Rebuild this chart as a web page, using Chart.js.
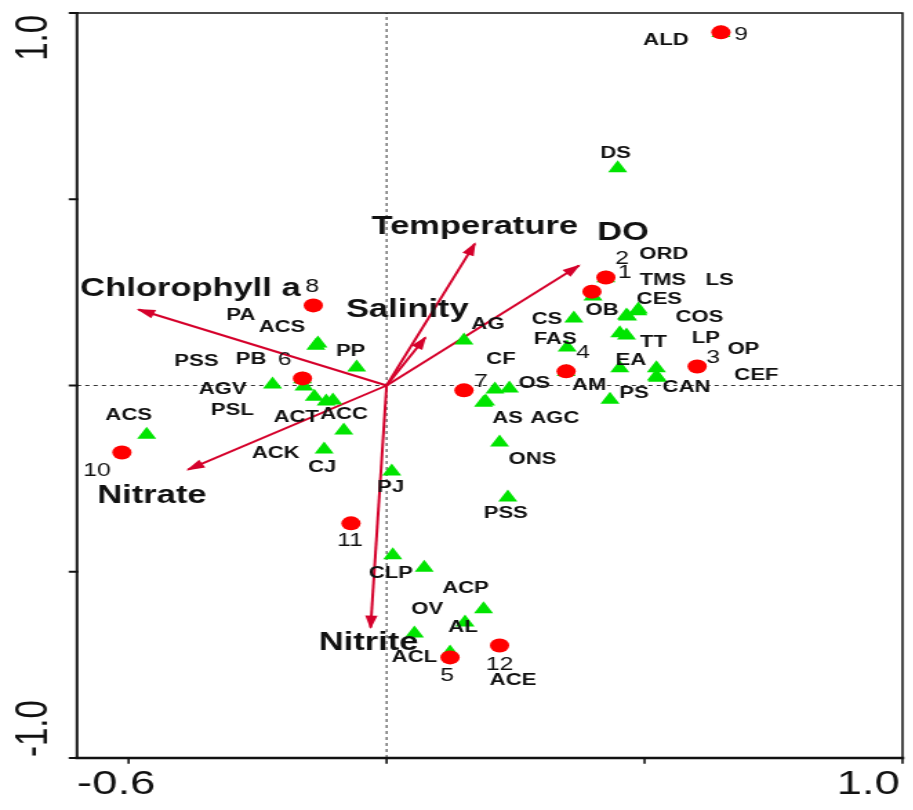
<!DOCTYPE html>
<html>
<head>
<meta charset="utf-8">
<title>CCA biplot</title>
<script src="https://cdn.jsdelivr.net/npm/chart.js@4.4.1/dist/chart.umd.min.js"></script>
<style>
  html, body { margin: 0; padding: 0; background: #fff; }
  #wrap { width: 913px; height: 810px; overflow: hidden; }
  /* the plot is drawn narrow and widened by CSS, which gives the wide lettering and oval dots */
  #cca { display: block; width: 662px; height: 810px; transform: scaleX(1.38); transform-origin: 0 0; }
</style>
</head>
<body>
<div id="wrap"><canvas id="cca" width="662" height="810"></canvas></div>
<script>
(function () {
  'use strict';

  var SX = 1.38; // must equal the scaleX in the stylesheet

  /* ---------------- Axes ---------------- */
  var xTicks = [-0.5, 0, 0.5, 1.0];
  var yTicks = [-1.0, -0.5, 0, 0.5, 1.0];
  var xTickLabels = ['-0.6', '1.0'];
  var yTickLabels = ['-1.0', '1.0'];

  /* ---------------- Sites (samples) ---------------- */
  var siteNames = ['1', '2', '3', '4', '5', '6', '7', '8', '9', '10', '11', '12'];
  var siteX = [0.425, 0.398, 0.602, 0.348, 0.123, -0.163, 0.150, -0.142, 0.648, -0.513, -0.069, 0.219];
  var siteY = [0.290, 0.252, 0.051, 0.038, -0.730, 0.019, -0.013, 0.215, 0.948, -0.180, -0.370, -0.698];

  /* ---------------- Species ---------------- */
  var speciesNames = ['PA', 'ACS', 'PP', 'PSS', 'PB', 'AGV', 'PSL', 'ACT', 'ACC', 'ACK', 'CJ', 'ACS',
    'AG', 'CS', 'FAS', 'CF', 'OS', 'AS', 'AGC', 'ONS', 'PSS', 'AM', 'PS', 'EA', 'OB', 'CES', 'COS',
    'TMS', 'ORD', 'LS', 'TT', 'LP', 'OP', 'CEF', 'CAN', 'DS', 'ALD', 'PJ', 'CLP', 'OV', 'ACP', 'AL',
    'ACL', 'ACE'];
  var speciesX = [-0.137, -0.133, -0.058, -0.163, -0.160, -0.221, -0.140, -0.117, -0.104, -0.083, -0.121, -0.465,
    0.150, 0.363, 0.350, 0.210, 0.238, 0.188, 0.192, 0.219, 0.235, 0.348, 0.433, 0.452, 0.400, 0.488, 0.465,
    0.487, 0.425, 0.467, 0.465, 0.452, 0.523, 0.523, 0.525, 0.448, 0.648, 0.010, 0.012, 0.073, 0.188, 0.152,
    0.054, 0.123];
  var speciesY = [0.107, 0.113, 0.048, 0.017, -0.003, 0.003, -0.030, -0.043, -0.040, -0.121, -0.172, -0.132,
    0.121, 0.180, 0.102, -0.011, -0.008, -0.046, -0.043, -0.153, -0.301, 0.036, -0.038, 0.046, 0.239, 0.204, 0.188,
    0.199, 0.288, 0.185, 0.134, 0.140, 0.046, 0.024, 0.021, 0.583, 0.946, -0.231, -0.456, -0.489, -0.601, -0.636,
    -0.666, -0.717];

  /* ---------------- Environmental vectors ---------------- */
  var envNames = ['Chlorophyll a', 'Nitrate', 'Nitrite', 'Temperature', 'DO', 'Salinity'];
  var envX = [-0.481, -0.385, -0.031, 0.171, 0.373, 0.075];
  var envY = [0.204, -0.226, -0.650, 0.381, 0.322, 0.129];

  /* label placement, screen pixels from the mark (or arrow tip) */
  var siteLabelOffsets = [[19, -4], [30, -33], [16, -8], [17, -18], [-3, 19], [-18, -18], [17, -8], [-1, -18],
    [20, 3], [-25, 18], [-1, 18], [0, 20]];
  var speciesLabelOffsets = [[-75, -30], [-36, -16], [-6, -16], [-106, -18], [-53, -27], [-50, 5], [-82, 14],
    [-30, 16], [11, 14], [-68, 23], [-2, 18], [-18, -19], [24, -16], [-27, 1], [-12, -8], [6, -30], [25, -5],
    [24, 16], [69, 17], [33, 17], [-2, 16], [23, 14], [24, -6], [11, -8], [9, 14], [21, -10], [73, 2], [25, -31],
    [58, -24], [92, -36], [27, 7], [86, 5], [87, -19], [100, -1], [29, 10], [-2, -15], [-55, 7], [-1, 16],
    [-2, 18], [3, 42], [-18, -21], [-2, 5], [0, 24], [63, 28]];
  var envLabelOffsets = [[52, -20], [-36, 26], [-2, 15], [0, -16], [44, -32], [-18, -27]];

  var RED = '#ff0000';
  var GREEN = '#00e400';
  var ARROW = '#d5002b';
  var INK = '#111111';
  var FONT = "'Liberation Sans', Arial, sans-serif";

  function points(xs, ys) {
    return xs.map(function (v, i) { return { x: v, y: ys[i] }; });
  }

  var datasets = [
    {
      label: 'Sites',
      data: points(siteX, siteY),
      pointStyle: 'circle',
      pointRadius: 7,
      backgroundColor: RED,
      borderColor: RED,
      borderWidth: 0,
      order: 0
    },
    {
      label: 'Species',
      data: points(speciesX, speciesY),
      pointStyle: 'triangle',
      pointRadius: 8,
      backgroundColor: GREEN,
      borderColor: GREEN,
      borderWidth: 0,
      order: 1
    }
  ];

  envNames.forEach(function (name, i) {
    datasets.push({
      label: name,
      type: 'line',
      data: [{ x: 0, y: 0 }, { x: envX[i], y: envY[i] }],
      borderColor: ARROW,
      borderWidth: 2,
      pointRadius: 0,
      fill: false,
      order: 2
    });
  });

  // dashed zero lines
  datasets.push({
    type: 'line',
    data: [{ x: -0.6, y: 0 }, { x: 1.0, y: 0 }],
    borderColor: '#333',
    borderWidth: 1,
    borderDash: [3, 3],
    pointRadius: 0,
    order: 3
  });
  datasets.push({
    type: 'line',
    data: [{ x: 0, y: -1.0 }, { x: 0, y: 1.0 }],
    borderColor: '#333',
    borderWidth: 1,
    borderDash: [3, 3],
    pointRadius: 0,
    order: 3
  });

  /* ---- arrowheads, labels, frame and ticks ---- */
  var biplotDecor = {
    id: 'biplotDecor',
    afterDatasetsDraw: function (chart) {
      var ctx = chart.ctx;
      var xs = chart.scales.x, ys = chart.scales.y;
      var ox = xs.getPixelForValue(0), oy = ys.getPixelForValue(0);

      ctx.save();
      ctx.fillStyle = ARROW;
      envX.forEach(function (v, i) {
        var tx = xs.getPixelForValue(v), ty = ys.getPixelForValue(envY[i]);
        var a = Math.atan2(ty - oy, tx - ox);
        var len = 12, half = 4.5;
        ctx.beginPath();
        ctx.moveTo(tx + 1.5 * Math.cos(a), ty + 1.5 * Math.sin(a));
        ctx.lineTo(tx - len * Math.cos(a) + half * Math.sin(a), ty - len * Math.sin(a) - half * Math.cos(a));
        ctx.lineTo(tx - len * Math.cos(a) - half * Math.sin(a), ty - len * Math.sin(a) + half * Math.cos(a));
        ctx.closePath();
        ctx.fill();
      });

      ctx.fillStyle = INK;
      ctx.textAlign = 'center';
      ctx.textBaseline = 'middle';

      function put(text, vx, vy, off) {
        ctx.fillText(text, xs.getPixelForValue(vx) + off[0] / SX, ys.getPixelForValue(vy) + off[1]);
      }

      ctx.font = 'bold 16px ' + FONT;
      speciesNames.forEach(function (n, i) { put(n, speciesX[i], speciesY[i], speciesLabelOffsets[i]); });

      ctx.font = '18px ' + FONT;
      siteNames.forEach(function (n, i) { put(n, siteX[i], siteY[i], siteLabelOffsets[i]); });

      ctx.font = 'bold 25px ' + FONT;
      envNames.forEach(function (n, i) { put(n, envX[i], envY[i], envLabelOffsets[i]); });
      ctx.restore();
    },
    afterDraw: function (chart) {
      var ctx = chart.ctx;
      var a = chart.chartArea;
      var xs = chart.scales.x, ys = chart.scales.y;

      ctx.save();
      ctx.strokeStyle = '#111';
      ctx.lineCap = 'square';

      // top and right
      ctx.lineWidth = 1.5;
      ctx.beginPath();
      ctx.moveTo(a.left, a.top); ctx.lineTo(a.right, a.top); ctx.lineTo(a.right, a.bottom);
      ctx.stroke();

      // left and bottom axes
      ctx.lineWidth = 2;
      ctx.beginPath();
      ctx.moveTo(a.left, a.top); ctx.lineTo(a.left, a.bottom);
      ctx.stroke();
      ctx.lineWidth = 2.5;
      ctx.beginPath();
      ctx.moveTo(a.left, a.bottom); ctx.lineTo(a.right, a.bottom);
      ctx.stroke();

      // tick marks
      ctx.lineWidth = 2;
      yTicks.forEach(function (v) {
        var py = ys.getPixelForValue(v);
        ctx.beginPath(); ctx.moveTo(a.left - 5, py); ctx.lineTo(a.left, py); ctx.stroke();
      });
      ctx.lineWidth = 1.6;
      xTicks.forEach(function (v) {
        var px = xs.getPixelForValue(v);
        ctx.beginPath(); ctx.moveTo(px, a.bottom); ctx.lineTo(px, a.bottom + 5); ctx.stroke();
      });

      // end labels of each axis
      ctx.fillStyle = INK;
      ctx.font = '33px ' + FONT;
      ctx.textBaseline = 'middle';
      ctx.textAlign = 'left';
      ctx.fillText(xTickLabels[0], a.left, a.bottom + 27);
      ctx.textAlign = 'right';
      ctx.fillText(xTickLabels[1], a.right - 2, a.bottom + 27);

      var lx = 35 / SX;
      ctx.translate(lx, 0);
      ctx.rotate(-Math.PI / 2);
      ctx.textAlign = 'left';
      ctx.fillText(yTickLabels[0], -(a.bottom - 1), 0);
      ctx.textAlign = 'right';
      ctx.fillText(yTickLabels[1], -(a.top + 2), 0);
      ctx.restore();
    }
  };

  new Chart(document.getElementById('cca').getContext('2d'), {
    type: 'scatter',
    data: { datasets: datasets },
    options: {
      responsive: false,
      devicePixelRatio: 1,
      animation: false,
      layout: { padding: { left: 77 / SX, right: 662 - 908 / SX, top: 13, bottom: 52 } },
      plugins: {
        legend: { display: false },
        tooltip: { enabled: false },
        title: { display: false }
      },
      scales: {
        x: { type: 'linear', min: -0.6, max: 1.0, display: false },
        y: { type: 'linear', min: -1.0, max: 1.0, display: false }
      }
    },
    plugins: [biplotDecor]
  });
})();
</script>
</body>
</html>
